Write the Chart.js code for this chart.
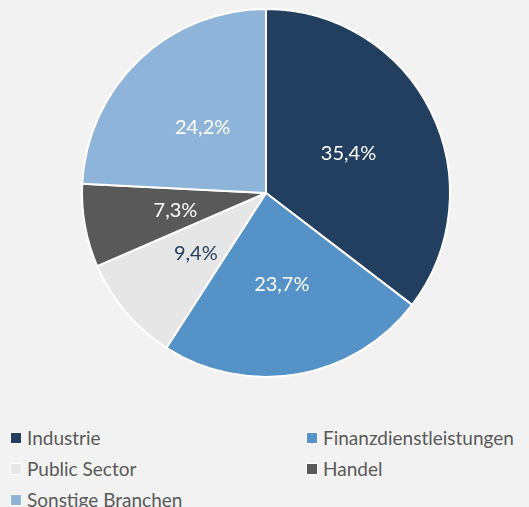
<!DOCTYPE html>
<html>
<head>
<meta charset="utf-8">
<script src="https://cdn.jsdelivr.net/npm/chart.js@4/dist/chart.umd.min.js"></script>
<style>
  body { margin: 0; background: #f2f2f2; width: 529px; height: 507px; overflow: hidden; position: relative; font-family: Lato, sans-serif; }
  #wrap { position: absolute; left: 0; top: 0; width: 529px; height: 386px; }
  #legend { position: absolute; left: 10px; top: 427px; width: 519px; display: grid; grid-template-columns: 296px 223px; row-gap: 10px; }
  .item { display: flex; align-items: center; font-size: 19px; color: #595959; height: 21px; white-space: nowrap; }
  .box { width: 10px; height: 10px; border: 1px solid #fff; margin-right: 5px; flex: none; }
</style>
</head>
<body>
<div id="wrap"><canvas id="pie"></canvas></div>
<div id="legend"></div>
<script>
const labels = ["Industrie", "Finanzdienstleistungen", "Public Sector", "Handel", "Sonstige Branchen"];
const shares = [35.4, 23.7, 9.4, 7.3, 24.2];
const colors = ["#223f60", "#5592c8", "#e7e6e6", "#595959", "#8fb4d9"];
const labelColors = ["#ffffff", "#ffffff", "#223f60", "#ffffff", "#ffffff"];

// Prozentwerte mittig in die Segmente schreiben
const sliceLabels = {
  id: "sliceLabels",
  afterDatasetsDraw(chart) {
    const ctx = chart.ctx;
    const meta = chart.getDatasetMeta(0);
    ctx.save();
    ctx.font = "20px Lato, sans-serif";
    ctx.textAlign = "center";
    ctx.textBaseline = "middle";
    meta.data.forEach((arc, i) => {
      const pos = arc.tooltipPosition();
      ctx.fillStyle = labelColors[i];
      ctx.fillText(shares[i].toFixed(1).replace(".", ",") + "%", pos.x, pos.y + 1);
    });
    ctx.restore();
  }
};

new Chart(document.getElementById("pie"), {
  type: "pie",
  data: {
    labels,
    datasets: [{
      data: shares,
      backgroundColor: colors,
      borderColor: "#ffffff",
      borderWidth: 2
    }]
  },
  options: {
    responsive: true,
    maintainAspectRatio: false,
    animation: false,
    layout: { padding: { top: 8, bottom: 8, left: 3 } },
    plugins: {
      legend: { display: false },
      tooltip: { enabled: false }
    }
  },
  plugins: [sliceLabels]
});

const legend = document.getElementById("legend");
labels.forEach((name, i) => {
  const item = document.createElement("div");
  item.className = "item";
  item.innerHTML = `<span class="box" style="background:${colors[i]}"></span>${name}`;
  legend.appendChild(item);
});
</script>
</body>
</html>
